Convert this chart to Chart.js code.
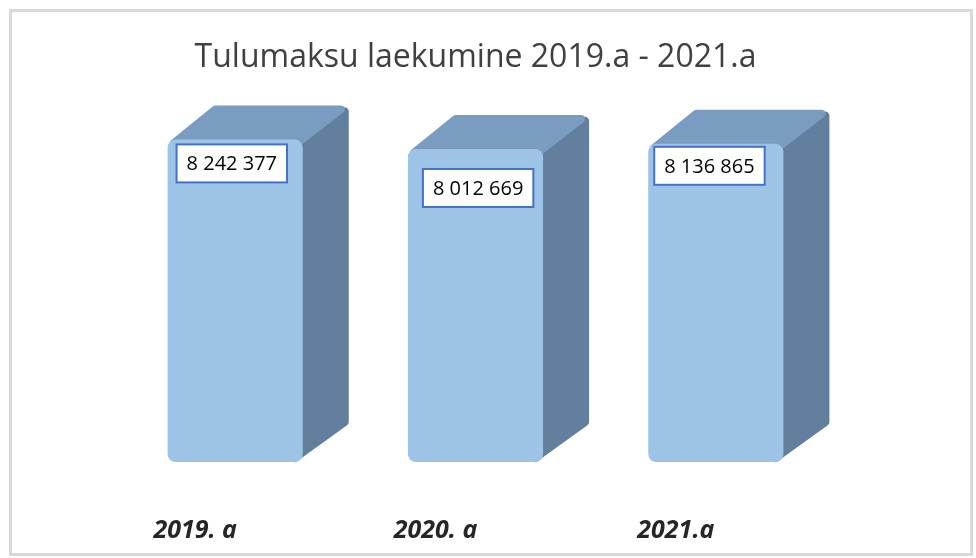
<!DOCTYPE html>
<html>
<head>
<meta charset="utf-8">
<script src="https://cdn.jsdelivr.net/npm/chart.js@4"></script>
<style>
  html, body { margin: 0; padding: 0; background: #fff; }
  #wrap { width: 976px; height: 558px; }
</style>
</head>
<body>
<div id="wrap"><canvas id="tuluGraafik"></canvas></div>
<script>
const aastad = ['2019. a', '2020. a', '2021.a'];
const laekumine = [8242377, 8012669, 8136865];
const pealkiri = 'Tulumaksu laekumine 2019.a - 2021.a';

// label box nudges from the bar's front-left corner
const kastiNihe = [[9, 5], [15, 20], [6, 3]];

const sugavus = { dx: 44, dy: 34 };

const raam = {
  id: 'raam',
  beforeDraw(chart) {
    const c = chart.ctx;
    c.save();
    c.fillStyle = '#fff';
    c.fillRect(0, 0, chart.width, chart.height);
    c.strokeStyle = '#d9d9d9';
    c.lineWidth = 3;
    c.strokeRect(10.5, 10.5, chart.width - 15, chart.height - 14);
    c.restore();
  }
};

// top and side faces behind the front face
const kuup = {
  id: 'kuup',
  beforeDatasetsDraw(chart) {
    const c = chart.ctx;
    const meta = chart.getDatasetMeta(0);
    c.save();
    meta.data.forEach(bar => {
      const l = bar.x - bar.width / 2;
      const r = bar.x + bar.width / 2;
      const t = bar.y;
      const b = Math.min(bar.base, chart.chartArea.bottom);
      const { dx, dy } = sugavus;
      c.lineJoin = 'round';
      c.lineWidth = 8;
      // side
      c.fillStyle = '#627f9e';
      c.strokeStyle = '#627f9e';
      c.beginPath();
      c.moveTo(r - 8, t + 4);
      c.lineTo(r + dx - 2, t - dy + 6);
      c.lineTo(r + dx - 2, b - dy - 6);
      c.lineTo(r - 8, b - 4);
      c.closePath();
      c.fill();
      c.stroke();
      // top
      c.fillStyle = '#7b9cc1';
      c.strokeStyle = '#7b9cc1';
      c.beginPath();
      c.moveTo(l + 6, t + 4);
      c.lineTo(l + dx + 4, t - dy + 4);
      c.lineTo(r + dx - 6, t - dy + 4);
      c.lineTo(r - 6, t + 4);
      c.closePath();
      c.fill();
      c.stroke();
    });
    c.restore();
  },
  afterDatasetsDraw(chart) {
    const c = chart.ctx;
    const meta = chart.getDatasetMeta(0);
    c.save();
    c.font = '20px "Open Sans"';
    c.textAlign = 'center';
    c.textBaseline = 'middle';
    meta.data.forEach((bar, i) => {
      const l = bar.x - bar.width / 2;
      const tekst = laekumine[i].toLocaleString('en-US').replace(/,/g, ' ');
      const w = c.measureText(tekst).width + 20;
      const h = 38;
      const x = l + kastiNihe[i][0];
      const y = bar.y + kastiNihe[i][1];
      c.fillStyle = '#fff';
      c.fillRect(x, y, w, h);
      c.strokeStyle = '#4472c4';
      c.lineWidth = 2;
      c.strokeRect(x, y, w, h);
      c.fillStyle = '#000';
      c.fillText(tekst, x + w / 2, y + h / 2 + 1);
    });
    c.restore();
  }
};

new Chart(document.getElementById('tuluGraafik'), {
  type: 'bar',
  data: {
    labels: aastad,
    datasets: [{
      data: laekumine,
      base: 500000,
      backgroundColor: '#9dc3e6',
      borderRadius: 8,
      borderSkipped: false,
      categoryPercentage: 1,
      barPercentage: 0.5625
    }]
  },
  options: {
    responsive: true,
    maintainAspectRatio: false,
    animation: false,
    layout: { padding: { left: 115, right: 140, top: 0, bottom: 14 } },
    plugins: {
      legend: { display: false },
      tooltip: { enabled: false },
      title: {
        display: true,
        text: pealkiri,
        color: '#404040',
        font: { family: '"Open Sans"', size: 32, weight: 'normal' },
        padding: { top: 39, bottom: 22.6 }
      }
    },
    scales: {
      x: {
        grid: { display: false, drawTicks: false },
        border: { display: false },
        afterFit(scale) { scale.height = 82; },
        ticks: {
          color: '#262626',
          font: { family: '"Open Sans"', size: 25, weight: 'bold', style: 'italic' },
          labelOffset: -40,
          padding: 54
        }
      },
      y: {
        display: false,
        beginAtZero: false,
        min: 500000,
        max: 9188000
      }
    }
  },
  plugins: [raam, kuup]
});
</script>
</body>
</html>
